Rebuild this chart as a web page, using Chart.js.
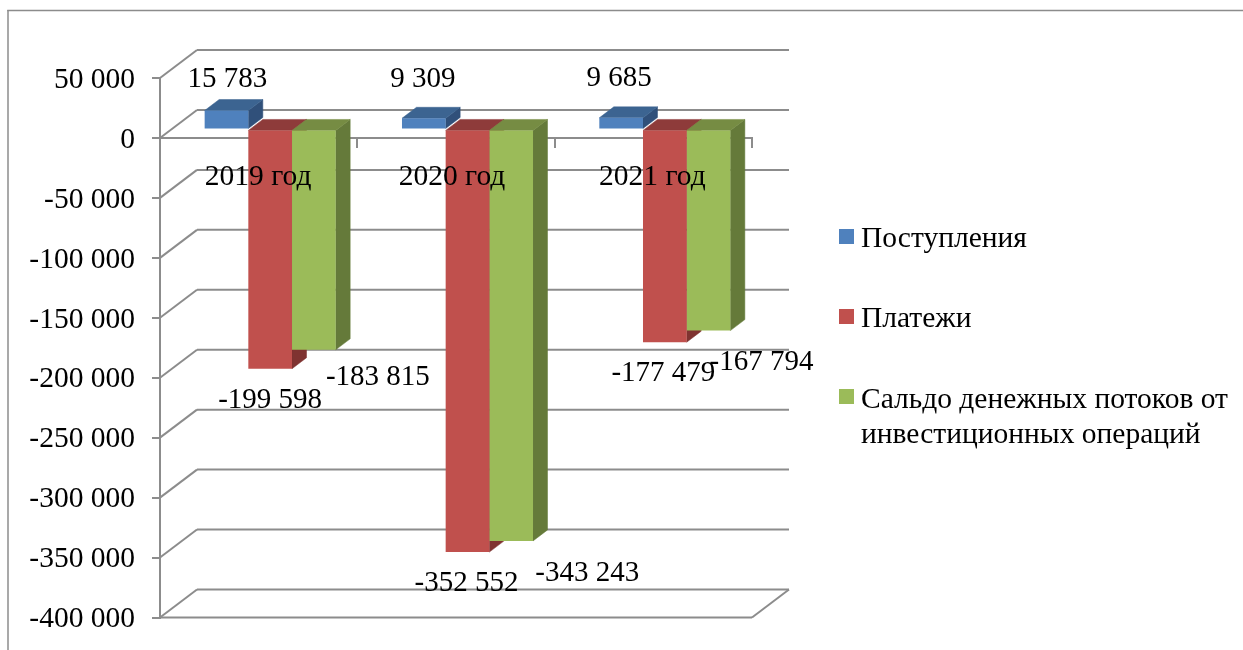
<!DOCTYPE html>
<html lang="ru">
<head>
<meta charset="utf-8">
<title>Денежные потоки от инвестиционных операций</title>
<style>
    html, body { margin: 0; padding: 0; background: #fff; }
    canvas { display: block; }
</style>
<script src="https://cdn.jsdelivr.net/npm/chart.js@4"></script>
</head>
<body>
<canvas id="flowChart" width="1243" height="650"></canvas>
<script>
const categories = ['2019 год', '2020 год', '2021 год'];
const seriesNames = ['Поступления', 'Платежи', 'Сальдо денежных потоков от инвестиционных операций'];
const receipts = [15783, 9309, 9685];
const payments = [-199598, -352552, -177479];
const balance = [-183815, -343243, -167794];
const yTickMin = -400000;
const yTickMax = 50000;
const yTickStep = 50000;

const faceColors = ['#4F81BD', '#C0504D', '#9BBB59'];
const topColors = ['#3C6491', '#8E3B3A', '#768C43'];
const sideColors = ['#30507A', '#7F3331', '#657A3A'];
const lineColor = '#8C8C8C';
const fontFamily = '"Liberation Serif", "Times New Roman", serif';
const labelFontSize = 29;
const axisFontSize = 29.5;

// depth of the box around the plot, and where the bars stand inside it
const wallDepth = { x: 37, y: -28 };
const barShift = { x: 11.5, y: -8.5 };
const barDepth = { x: 14.5, y: -11 };

// value label offsets from the end of each bar: [dx, dy] per series, per year
const labelOffsets = [
    [[1, -31.5], [-1, -39.3], [-2, -39]],
    [[0, 31.5], [-1, 31.5], [-1.5, 31]],
    [[64, 27.5], [76, 32], [53, 32]],
];
// year labels sit under the axis, nudged per category
const yearLabelOffsets = [-0.5, -4, -1];

function formatNumber(value) {
    const sign = value < 0 ? '-' : '';
    return sign + String(Math.abs(value)).replace(/\B(?=(\d{3})+(?!\d))/g, ' ');
}

function strokeLine(ctx, x1, y1, x2, y2) {
    ctx.beginPath();
    ctx.moveTo(x1, y1);
    ctx.lineTo(x2, y2);
    ctx.stroke();
}

function fillQuad(ctx, color, pts) {
    ctx.fillStyle = color;
    ctx.strokeStyle = color;
    ctx.lineWidth = 0.5;
    ctx.beginPath();
    ctx.moveTo(pts[0][0], pts[0][1]);
    for (let i = 1; i < pts.length; i++) {
        ctx.lineTo(pts[i][0], pts[i][1]);
    }
    ctx.closePath();
    ctx.fill();
    ctx.stroke();
}

function wrapText(ctx, text, maxWidth) {
    const lines = [];
    let line = '';
    text.split(' ').forEach(function (word) {
        const next = line ? line + ' ' + word : word;
        if (line && ctx.measureText(next).width > maxWidth) {
            lines.push(line);
            line = word;
        } else {
            line = next;
        }
    });
    lines.push(line);
    return lines;
}

// outer frame, side wall and back wall lines
const wallsPlugin = {
    id: 'walls',
    beforeDraw(chart) {
        const ctx = chart.ctx;
        const area = chart.chartArea;
        const yScale = chart.scales.y;

        ctx.save();
        ctx.strokeStyle = lineColor;
        ctx.lineWidth = 1.5;
        strokeLine(ctx, 8, 10, 8, 650);
        strokeLine(ctx, 7.25, 10.5, 1243, 10.5);

        ctx.lineWidth = 2;
        yScale.ticks.forEach(function (tick) {
            const y = yScale.getPixelForValue(tick.value);
            strokeLine(ctx, area.left, y, area.left + wallDepth.x, y + wallDepth.y);
            strokeLine(ctx, area.left + wallDepth.x, y + wallDepth.y, area.right + wallDepth.x, y + wallDepth.y);
        });

        strokeLine(ctx, area.left, area.bottom, area.right, area.bottom);
        strokeLine(ctx, area.right, area.bottom, area.right + wallDepth.x, area.bottom + wallDepth.y);
        ctx.restore();
    },
};

// top and side faces of the bars go under the front faces the library draws
const boxesPlugin = {
    id: 'boxes',
    beforeDatasetsDraw(chart) {
        const ctx = chart.ctx;
        ctx.save();
        ctx.translate(barShift.x, barShift.y);

        chart.data.datasets.forEach(function (dataset, d) {
            chart.getDatasetMeta(d).data.forEach(function (bar) {
                const left = bar.x - bar.width / 2;
                const right = bar.x + bar.width / 2;
                const top = Math.min(bar.y, bar.base);
                const bottom = Math.max(bar.y, bar.base);
                fillQuad(ctx, sideColors[d], [
                    [right, top],
                    [right + barDepth.x, top + barDepth.y],
                    [right + barDepth.x, bottom + barDepth.y],
                    [right, bottom],
                ]);
                fillQuad(ctx, topColors[d], [
                    [left, top],
                    [left + barDepth.x, top + barDepth.y],
                    [right + barDepth.x, top + barDepth.y],
                    [right, top],
                ]);
            });
        });
    },
    afterDatasetsDraw(chart) {
        chart.ctx.restore();
    },
};

const valueLabelsPlugin = {
    id: 'valueLabels',
    afterDraw(chart) {
        const ctx = chart.ctx;
        const xScale = chart.scales.x;
        const zeroY = chart.scales.y.getPixelForValue(0);

        ctx.save();
        ctx.fillStyle = '#000';
        ctx.textAlign = 'center';
        ctx.textBaseline = 'middle';

        ctx.font = axisFontSize + 'px ' + fontFamily;
        categories.forEach(function (name, i) {
            ctx.fillText(name, xScale.getPixelForTick(i) + yearLabelOffsets[i], zeroY + 39.5);
        });

        ctx.font = labelFontSize + 'px ' + fontFamily;
        chart.data.datasets.forEach(function (dataset, d) {
            chart.getDatasetMeta(d).data.forEach(function (bar, i) {
                const offset = labelOffsets[d][i];
                ctx.fillText(
                    formatNumber(dataset.data[i]),
                    bar.x + barShift.x + offset[0],
                    bar.y + barShift.y + offset[1]
                );
            });
        });
        ctx.restore();
    },
};

const sideLegendPlugin = {
    id: 'sideLegend',
    afterDraw(chart) {
        const ctx = chart.ctx;
        const swatchX = 839;
        const swatchTops = [229, 309, 389];
        const textX = 861;
        const textRows = [239, 319, 400];

        ctx.save();
        ctx.font = axisFontSize + 'px ' + fontFamily;
        ctx.textAlign = 'left';
        ctx.textBaseline = 'middle';

        chart.data.datasets.forEach(function (dataset, d) {
            ctx.fillStyle = faceColors[d];
            ctx.fillRect(swatchX, swatchTops[d], 15, 15);
            ctx.fillStyle = '#000';
            wrapText(ctx, dataset.label, 375).forEach(function (line, n) {
                ctx.fillText(line, textX, textRows[d] + n * 35);
            });
        });
        ctx.restore();
    },
};

new Chart(document.getElementById('flowChart'), {
    type: 'bar',
    data: {
        labels: categories,
        datasets: [
            { label: seriesNames[0], data: receipts, backgroundColor: faceColors[0], clip: false },
            { label: seriesNames[1], data: payments, backgroundColor: faceColors[1], clip: false },
            { label: seriesNames[2], data: balance, backgroundColor: faceColors[2], clip: false },
        ],
    },
    options: {
        responsive: false,
        animation: false,
        events: [],
        datasets: { bar: { categoryPercentage: 0.664, barPercentage: 1 } },
        layout: { padding: { left: 8, right: 491, top: 78, bottom: 32.5 } },
        plugins: {
            legend: { display: false },
            title: { display: false },
            tooltip: { enabled: false },
        },
        scales: {
            x: {
                position: { y: 0 },
                afterFit(scale) { scale.height = 0; },
                border: { color: lineColor, width: 2 },
                grid: { drawOnChartArea: false, color: lineColor, lineWidth: 2, tickLength: 9 },
                ticks: { display: false },
            },
            y: {
                min: yTickMin,
                max: yTickMax,
                afterFit(scale) {
                    scale.width = 152;
                    scale.paddingTop = 0;
                    scale.paddingBottom = 0;
                },
                border: { color: lineColor, width: 2 },
                grid: { drawOnChartArea: false, color: lineColor, lineWidth: 2, tickLength: 8 },
                ticks: {
                    stepSize: yTickStep,
                    autoSkip: false,
                    labelOffset: 2,
                    color: '#000',
                    padding: 17,
                    font: { family: fontFamily, size: axisFontSize },
                    callback: function (value) { return formatNumber(value); },
                },
            },
        },
    },
    plugins: [wallsPlugin, boxesPlugin, valueLabelsPlugin, sideLegendPlugin],
});
</script>
</body>
</html>
